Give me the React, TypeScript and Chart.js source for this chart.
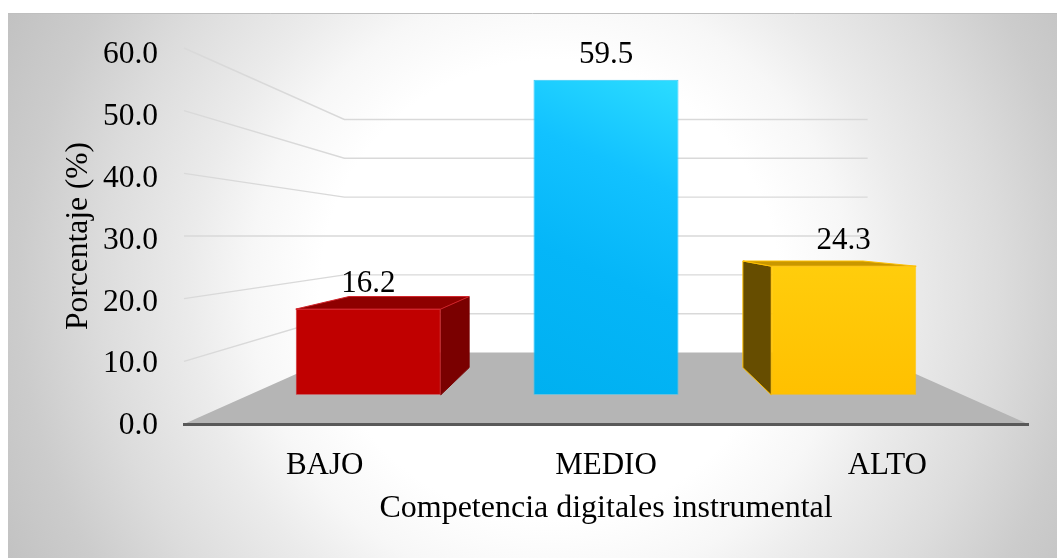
import React, { useEffect, useRef } from "react";
import { Chart, registerables } from "chart.js";

Chart.register(...registerables);

const categories = ["BAJO", "MEDIO", "ALTO"];
const percentages = [16.2, 59.5, 24.3];
const axisMax = 60;
const axisStep = 10;
const xTitle = "Competencia digitales instrumental";
const yTitle = "Porcentaje (%)";

const FONT = "'Liberation Serif', 'Times New Roman', serif";
const TEXT_SIZE = 31;
const WIDTH = 1057;
const HEIGHT = 558;

// Depth factors of the fake perspective: 1 = front of the floor, smaller = further back.
const BACK_WALL = 0.62;
const BAR_FRONT = 0.845;
const BAR_BACK = 0.7;
const LABEL_GAP = 25;
// The reference's tick labels sit slightly closer together than the gridlines they name.
const TICK_LABEL_SQUEEZE = 0.987;

const sideColors = ["#7a0000", "#0090c8", "#664d00"];
const topColors = ["#8e0000", "#0090c8", "#c99700"];
const borderColors = ["#d2232a", "#35c6f5", "#ffc000"];

function vanishing(chart: any) {
  const { left, right } = chart.chartArea;
  return { x: (left + right) / 2, y: chart.scales.y.getPixelForValue(30) };
}

function project(chart: any, x: number, y: number, s: number) {
  const v = vanishing(chart);
  return [v.x + (x - v.x) * s, v.y + (y - v.y) * s];
}

function poly(ctx: CanvasRenderingContext2D, pts: number[][], fill: string, stroke?: string) {
  ctx.beginPath();
  pts.forEach((p, i) => (i ? ctx.lineTo(p[0], p[1]) : ctx.moveTo(p[0], p[1])));
  ctx.closePath();
  ctx.fillStyle = fill;
  ctx.fill();
  if (stroke) {
    ctx.strokeStyle = stroke;
    ctx.lineWidth = 1;
    ctx.stroke();
  }
}

const scene3d = {
  id: "scene3d",
  afterUpdate(chart: any) {
    const { y } = chart.scales;
    const zero = y.getPixelForValue(0);
    y.getLabelItems(chart.chartArea).forEach((it: any) => {
      const t = it.options.translation;
      t[1] = zero + (t[1] - zero) * TICK_LABEL_SQUEEZE;
    });
  },
  beforeDraw(chart: any) {
    const { ctx, chartArea, scales } = chart;
    const { left, right, bottom } = chartArea;
    // panel
    const px = 8, py = 13, pw = WIDTH - px, ph = HEIGHT - py;
    ctx.save();
    const R = 620;
    const g = ctx.createRadialGradient(550, 290, 0, 550, 290, R);
    g.addColorStop(0, "#ffffff");
    g.addColorStop(230 / R, "#ffffff");
    g.addColorStop(300 / R, "#f7f7f7");
    g.addColorStop(360 / R, "#ebebeb");
    g.addColorStop(450 / R, "#dcdcdc");
    g.addColorStop(530 / R, "#cccccc");
    g.addColorStop(1, "#c0c0c0");
    ctx.fillStyle = g;
    ctx.fillRect(px, py, pw, ph);
    ctx.strokeStyle = "#bfbfbf";
    ctx.lineWidth = 1;
    ctx.beginPath();
    ctx.moveTo(px, py + 0.5);
    ctx.lineTo(WIDTH, py + 0.5);
    ctx.stroke();

    // wall gridlines, through the y scale
    ctx.strokeStyle = "#d9d9d9";
    ctx.lineWidth = 1.4;
    scales.y.ticks.forEach((t: any) => {
      if (t.value === 0) return;
      const y = scales.y.getPixelForValue(t.value);
      const a = project(chart, left, y, BACK_WALL);
      const b = project(chart, right, y, BACK_WALL);
      ctx.beginPath();
      ctx.moveTo(left, y);
      ctx.lineTo(a[0], a[1]);
      ctx.lineTo(b[0], b[1]);
      ctx.stroke();
    });
    // floor
    poly(
      ctx,
      [[left, bottom], project(chart, left, bottom, BACK_WALL), project(chart, right, bottom, BACK_WALL), [right, bottom]],
      "#b5b5b5"
    );
    ctx.restore();
  },
  beforeDatasetsDraw(chart: any) {
    const { ctx } = chart;
    const v = vanishing(chart);
    const els = chart.getDatasetMeta(0).data;
    ctx.save();
    els.forEach((el: any, i: number) => {
      const { x, y, base, width } = el.getProps(["x", "y", "base", "width"], true);
      const l = x - width / 2;
      const r = x + width / 2;
      const P = (a: number, b: number, s: number) => project(chart, a, b, s);
      if (r < v.x) {
        poly(ctx, [P(r, y, BAR_FRONT), P(r, y, BAR_BACK), P(r, base, BAR_BACK), P(r, base, BAR_FRONT)], sideColors[i], sideColors[i]);
      }
      if (l > v.x) {
        poly(ctx, [P(l, y, BAR_FRONT), P(l, y, BAR_BACK), P(l, base, BAR_BACK), P(l, base, BAR_FRONT)], sideColors[i], borderColors[i]);
      }
      if (y > v.y) {
        poly(ctx, [P(l, y, BAR_FRONT), P(l, y, BAR_BACK), P(r, y, BAR_BACK), P(r, y, BAR_FRONT)], topColors[i], borderColors[i]);
      }
    });
    ctx.restore();
    // front faces: the library's own bars, drawn in the plane of the bar front
    ctx.save();
    ctx.translate(v.x, v.y);
    ctx.scale(BAR_FRONT, BAR_FRONT);
    ctx.translate(-v.x, -v.y);
  },
  afterDatasetsDraw(chart: any) {
    const { ctx } = chart;
    ctx.restore();
    const els = chart.getDatasetMeta(0).data;
    ctx.save();
    ctx.font = `${TEXT_SIZE}px ${FONT}`;
    ctx.fillStyle = "#000";
    ctx.textAlign = "center";
    ctx.textBaseline = "middle";
    els.forEach((el: any, i: number) => {
      const { x, y } = el.getProps(["x", "y"], true);
      const p = project(chart, x, y, BAR_FRONT);
      ctx.fillText(percentages[i].toFixed(1), p[0], p[1] - LABEL_GAP);
    });
    ctx.restore();
  },
};

function faceColor(c: any) {
  const i = c.dataIndex;
  if (i === 0 || i === undefined) return "#c00000";
  const { x, y } = c.chart.scales;
  const top = y.getPixelForValue(percentages[i]);
  const base = y.getPixelForValue(0);
  const cx = x.getPixelForValue(i);
  const ctx = c.chart.ctx;
  if (i === 1) {
    const g = ctx.createLinearGradient(cx + 85, top, cx - 85, base);
    g.addColorStop(0, "#2bdcff");
    g.addColorStop(0.3, "#12c2ff");
    g.addColorStop(0.6, "#05b6f8");
    g.addColorStop(1, "#00b0f0");
    return g;
  }
  const g = ctx.createLinearGradient(cx, top, cx, base);
  g.addColorStop(0, "#ffcd0c");
  g.addColorStop(1, "#ffc000");
  return g;
}

export default function App() {
  const ref = useRef<HTMLCanvasElement>(null);
  useEffect(() => {
    const font = { family: FONT, size: TEXT_SIZE };
    const yTickFont = { family: FONT, size: 31.5 };
    const xTitleFont = { family: FONT, size: 32 };
    const yTitleFont = { family: FONT, size: 31.5 };
    const chart = new Chart(ref.current as HTMLCanvasElement, {
      type: "bar",
      data: {
        labels: categories,
        datasets: [
          {
            data: percentages,
            backgroundColor: faceColor,
            borderColor: borderColors,
            borderWidth: 1,
            borderSkipped: false,
            barPercentage: 0.61,
            categoryPercentage: 1,
            clip: false,
          } as any,
        ],
      },
      options: {
        animation: false,
        responsive: false,
        layout: { padding: { left: 0, top: 48, right: 29, bottom: 0 } },
        plugins: { legend: { display: false }, tooltip: { enabled: false } },
        scales: {
          x: {
            grid: { display: false },
            border: { display: true, color: "#595959", width: 3 },
            ticks: { font, color: "#000", padding: 15, maxRotation: 0 },
            title: { display: true, text: xTitle, font: xTitleFont, color: "#000", padding: { top: 0, bottom: 30 } },
            afterFit: (s: any) => {
              s.height = 134;
            },
          },
          y: {
            min: 0,
            max: axisMax,
            grid: { display: false },
            border: { display: false },
            ticks: {
              stepSize: axisStep,
              font: yTickFont,
              color: "#000",
              padding: 18,
              labelOffset: 2,
              callback: (v: any) => Number(v).toFixed(1),
            },
            title: { display: true, text: yTitle, font: yTitleFont, color: "#000", padding: { top: 60, bottom: 0 } },
            afterFit: (s: any) => {
              s.width = 184;
            },
          },
        },
      } as any,
      plugins: [scene3d],
    });
    return () => chart.destroy();
  }, []);
  return (
    <div style={{ position: "fixed", left: 0, top: 0, width: WIDTH, height: HEIGHT, background: "#fff" }}>
      <canvas ref={ref} width={WIDTH} height={HEIGHT} style={{ display: "block" }} />
    </div>
  );
}
